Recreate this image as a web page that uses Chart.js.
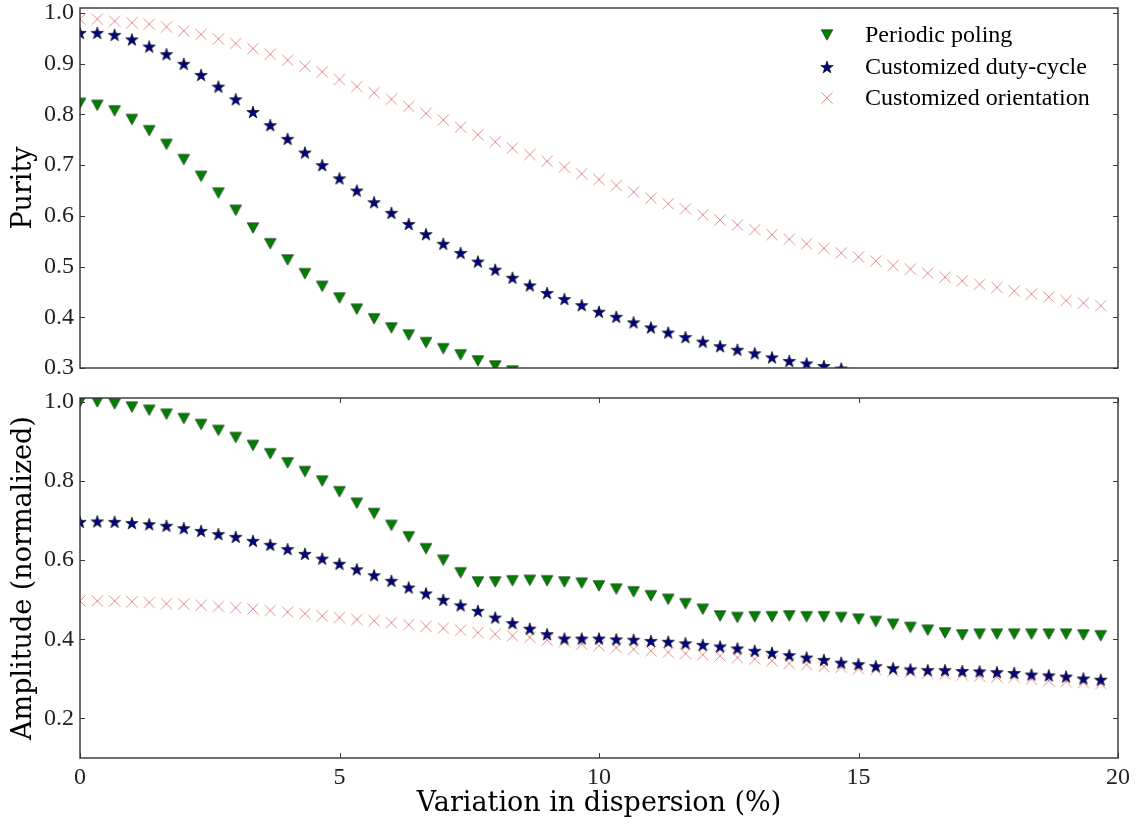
<!DOCTYPE html>
<html>
<head>
<meta charset="utf-8">
<script src="https://cdn.jsdelivr.net/npm/chart.js@4.4.1/dist/chart.umd.min.js"></script>
<style>
  html, body { margin: 0; padding: 0; background: #fff; }
  #wrap { position: relative; width: 1136px; height: 825px; }
  canvas { position: absolute; left: 0; }
  #top { top: 0; }
  #bottom { top: 380px; }
</style>
</head>
<body>
<div id="wrap">
  <canvas id="top" width="1136" height="380"></canvas>
  <canvas id="bottom" width="1136" height="445"></canvas>
</div>
<script>
// x positions: variation in dispersion (%), one sample every 1/3 %
const dispersion = Array.from({ length: 60 }, (_, i) => i / 3);

const seriesNames = ["Periodic poling", "Customized duty-cycle", "Customized orientation"];

// top panel: purity (values below 0.3 fall outside the axes)
const purityPoling = [0.822, 0.818, 0.807, 0.790, 0.768, 0.741, 0.711, 0.678, 0.645, 0.611,
  0.576, 0.545, 0.513, 0.486, 0.461, 0.438, 0.416, 0.397, 0.379, 0.365,
  0.350, 0.338, 0.326, 0.314, 0.304, 0.294];
const purityDuty = [0.961, 0.961, 0.957, 0.948, 0.934, 0.919, 0.900, 0.878, 0.855, 0.830,
  0.805, 0.779, 0.752, 0.725, 0.700, 0.674, 0.650, 0.627, 0.606, 0.584,
  0.564, 0.545, 0.527, 0.510, 0.494, 0.478, 0.463, 0.448, 0.436, 0.424,
  0.411, 0.401, 0.390, 0.380, 0.370, 0.361, 0.352, 0.343, 0.336, 0.329,
  0.321, 0.314, 0.309, 0.304, 0.299];
const purityOrient = [0.988, 0.988, 0.984, 0.981, 0.978, 0.973, 0.965, 0.958, 0.949, 0.940,
  0.930, 0.919, 0.907, 0.895, 0.884, 0.869, 0.855, 0.843, 0.830, 0.816,
  0.802, 0.789, 0.775, 0.760, 0.746, 0.734, 0.721, 0.708, 0.696, 0.683,
  0.672, 0.660, 0.647, 0.635, 0.624, 0.614, 0.602, 0.592, 0.582, 0.573,
  0.563, 0.554, 0.545, 0.536, 0.527, 0.519, 0.511, 0.502, 0.495, 0.487,
  0.479, 0.472, 0.465, 0.459, 0.452, 0.446, 0.440, 0.433, 0.428, 0.423];

// bottom panel: amplitude (normalized)
const ampPoling = [1.000, 1.000, 0.995, 0.987, 0.979, 0.969, 0.958, 0.943, 0.928, 0.910,
  0.890, 0.869, 0.846, 0.824, 0.800, 0.773, 0.744, 0.718, 0.688, 0.659,
  0.629, 0.600, 0.568, 0.545, 0.545, 0.548, 0.549, 0.548, 0.545, 0.542,
  0.535, 0.527, 0.520, 0.510, 0.501, 0.490, 0.476, 0.459, 0.455, 0.457,
  0.457, 0.459, 0.457, 0.457, 0.455, 0.451, 0.445, 0.438, 0.430, 0.423,
  0.416, 0.411, 0.413, 0.413, 0.413, 0.413, 0.413, 0.413, 0.411, 0.409];
const ampDuty = [0.697, 0.698, 0.697, 0.694, 0.691, 0.687, 0.681, 0.674, 0.666, 0.659,
  0.649, 0.639, 0.628, 0.616, 0.604, 0.591, 0.577, 0.562, 0.548, 0.531,
  0.516, 0.500, 0.486, 0.472, 0.455, 0.441, 0.427, 0.413, 0.402, 0.402,
  0.402, 0.400, 0.399, 0.396, 0.394, 0.390, 0.386, 0.382, 0.377, 0.371,
  0.366, 0.360, 0.354, 0.348, 0.341, 0.337, 0.332, 0.327, 0.324, 0.322,
  0.322, 0.320, 0.319, 0.317, 0.315, 0.311, 0.309, 0.306, 0.301, 0.298];
const ampOrient = [0.497, 0.497, 0.497, 0.495, 0.493, 0.490, 0.489, 0.486, 0.483, 0.480,
  0.477, 0.473, 0.469, 0.465, 0.459, 0.455, 0.450, 0.447, 0.442, 0.437,
  0.433, 0.428, 0.423, 0.417, 0.413, 0.409, 0.405, 0.398, 0.394, 0.388,
  0.384, 0.379, 0.375, 0.371, 0.367, 0.364, 0.361, 0.358, 0.354, 0.350,
  0.346, 0.339, 0.336, 0.331, 0.329, 0.326, 0.324, 0.320, 0.317, 0.315,
  0.312, 0.310, 0.307, 0.305, 0.304, 0.299, 0.295, 0.293, 0.291, 0.288];

const xTicks = [0, 5, 10, 15, 20];
const purityTicks = [0.3, 0.4, 0.5, 0.6, 0.7, 0.8, 0.9, 1.0];
const ampTicks = [0.2, 0.4, 0.6, 0.8, 1.0];

const TICK_FONT = "'Liberation Serif', serif";
const TEXT_FONT = "'DejaVu Serif', serif";

// matplotlib-like markers drawn on small canvases
function makeMarker(kind) {
  const c = document.createElement("canvas");
  c.width = 16;
  c.height = 16;
  const g = c.getContext("2d");
  const m = 8;
  if (kind === "tri") {
    g.beginPath();
    g.moveTo(m - 5.8, m - 5.2);
    g.lineTo(m + 5.8, m - 5.2);
    g.lineTo(m, m + 5.2);
    g.closePath();
    g.fillStyle = "#008000";
    g.fill();
    g.lineWidth = 0.7;
    g.strokeStyle = "#1c361c";
    g.stroke();
  } else if (kind === "star") {
    g.beginPath();
    for (let k = 0; k < 10; k++) {
      const r = k % 2 === 0 ? 6.6 : 2.6;
      const a = -Math.PI / 2 + (k * Math.PI) / 5;
      const px = m + r * Math.cos(a);
      const py = m + 0.6 + r * Math.sin(a);
      if (k === 0) g.moveTo(px, py);
      else g.lineTo(px, py);
    }
    g.closePath();
    g.fillStyle = "#000080";
    g.fill();
    g.lineWidth = 0.6;
    g.strokeStyle = "#000";
    g.stroke();
  } else {
    g.beginPath();
    g.moveTo(m - 5.6, m - 5.6);
    g.lineTo(m + 5.6, m + 5.6);
    g.moveTo(m + 5.6, m - 5.6);
    g.lineTo(m - 5.6, m + 5.6);
    g.lineWidth = 1;
    g.strokeStyle = "#e48c8c";
    g.stroke();
  }
  return c;
}

const markers = [makeMarker("tri"), makeMarker("star"), makeMarker("cross")];

function toPoints(values) {
  return values.map((v, i) => ({ x: dispersion[i], y: v }));
}

function buildDatasets(lists) {
  return lists.map((values, k) => ({
    label: seriesNames[k],
    data: toPoints(values),
    showLine: false,
    pointStyle: markers[k],
    pointRadius: 7,
  }));
}

// axes box with inward ticks, as in the original figure
const framePlugin = {
  id: "frame",
  afterDatasetsDraw(chart, args, opts) {
    const { ctx, chartArea: a } = chart;
    const tl = 5;
    ctx.save();
    ctx.strokeStyle = "#3a3a3a";
    ctx.lineWidth = 1;
    const line = (x1, y1, x2, y2) => {
      ctx.beginPath();
      ctx.moveTo(x1, y1);
      ctx.lineTo(x2, y2);
      ctx.stroke();
    };
    const ys = chart.scales.y;
    ys.ticks.forEach((t) => {
      const py = Math.round(ys.getPixelForValue(t.value)) + 0.5;
      line(a.left, py, a.left + tl, py);
      line(a.right - tl, py, a.right, py);
    });
    if (opts.xTicks) {
      const xs = chart.scales.x;
      xs.ticks.forEach((t) => {
        const px = Math.round(xs.getPixelForValue(t.value)) + 0.5;
        line(px, a.top, px, a.top + tl);
        line(px, a.bottom - tl, px, a.bottom);
      });
    }
    ctx.lineWidth = 1.4;
    ctx.strokeStyle = "#333";
    ctx.strokeRect(a.left, a.top, a.right - a.left, a.bottom - a.top);
    ctx.restore();
  },
};

// legend inside the upper-right of the top panel
const legendPlugin = {
  id: "innerLegend",
  afterDraw(chart, args, opts) {
    if (!opts.show) return;
    const { ctx, chartArea: a } = chart;
    const mx = a.right - 291;
    const tx = a.right - 253;
    const rows = [27, 59, 90];
    ctx.save();
    ctx.font = "24px " + TICK_FONT;
    ctx.fillStyle = "#000";
    ctx.textBaseline = "middle";
    seriesNames.forEach((name, k) => {
      const y = a.top + rows[k];
      ctx.drawImage(markers[k], mx - 8, y - 8);
      ctx.fillText(name, tx, y + 1);
    });
    ctx.restore();
  },
};

const tickFont = { family: TICK_FONT, size: 24 };
const titleFont = { family: TEXT_FONT, size: 27 };

function yAxis(min, max, tickValues, title) {
  return {
    type: "linear",
    min: min,
    max: max,
    grid: { display: false, drawTicks: false },
    border: { display: false },
    afterBuildTicks: (s) => {
      s.ticks = tickValues.map((v) => ({ value: v }));
    },
    afterFit: (s) => {
      s.width = 80;
      s.paddingTop = 0;
      s.paddingBottom = 0;
    },
    ticks: {
      font: tickFont,
      color: "#222",
      padding: 6,
      callback: (v) => Number(v).toFixed(1),
    },
    title: { display: true, text: title, font: titleFont, color: "#000", padding: { top: 8, bottom: 0 } },
  };
}

new Chart(document.getElementById("top"), {
  type: "scatter",
  data: { datasets: buildDatasets([purityPoling, purityDuty, purityOrient]) },
  options: {
    responsive: false,
    animation: false,
    layout: { padding: { top: 8, right: 18, bottom: 12, left: 0 } },
    scales: {
      x: { type: "linear", min: 0, max: 20, display: false },
      y: yAxis(0.3, 1.01, purityTicks, "Purity"),
    },
    plugins: {
      legend: { display: false },
      tooltip: { enabled: false },
      frame: { xTicks: false },
      innerLegend: { show: true },
    },
  },
  plugins: [framePlugin, legendPlugin],
});

new Chart(document.getElementById("bottom"), {
  type: "scatter",
  data: { datasets: buildDatasets([ampPoling, ampDuty, ampOrient]) },
  options: {
    responsive: false,
    animation: false,
    layout: { padding: { top: 18, right: 18, bottom: 0, left: 0 } },
    scales: {
      x: {
        type: "linear",
        min: 0,
        max: 20,
        grid: { display: false, drawTicks: false },
        border: { display: false },
        afterBuildTicks: (s) => {
          s.ticks = xTicks.map((v) => ({ value: v }));
        },
        afterFit: (s) => {
          s.height = 67;
          s.paddingLeft = 0;
          s.paddingRight = 0;
        },
        ticks: { font: tickFont, color: "#222", padding: 5, maxRotation: 0 },
        title: {
          display: true,
          text: "Variation in dispersion (%)",
          font: titleFont,
          color: "#000",
          padding: { top: 0, bottom: 5 },
        },
      },
      y: yAxis(0.1, 1.01, ampTicks, "Amplitude (normalized)"),
    },
    plugins: {
      legend: { display: false },
      tooltip: { enabled: false },
      frame: { xTicks: true },
      innerLegend: { show: false },
    },
  },
  plugins: [framePlugin, legendPlugin],
});
</script>
</body>
</html>
